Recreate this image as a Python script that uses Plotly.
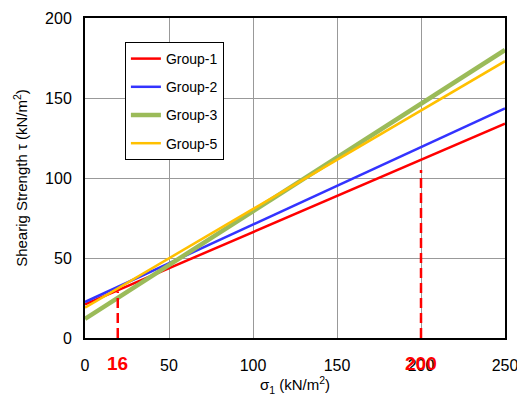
import plotly.graph_objects as go

# straight-line fits: tau at sigma=0 and sigma=250
sigma = [0, 250]
group_names = ["Group-1", "Group-2", "Group-3", "Group-5"]
group_1 = [21, 134]
group_2 = [22.5, 143.5]
group_3 = [12, 180]
group_5 = [19, 173]

colors = ["#FF0000", "#3333FF", "#9BBB59", "#FFC000"]
widths = [2.5, 2.5, 4.5, 2.5]

# dashed markers (the left one sits a little right of 16 in the original)
mark_x = [19.5, 200]
mark_top = [29, 105]
mark_labels = ["16", "200"]

fig = go.Figure()
for name, vals, c, w in zip(group_names, [group_1, group_2, group_3, group_5], colors, widths):
    fig.add_trace(go.Scatter(x=sigma, y=vals, mode="lines", name=name, legendgroup=name,
                             line=dict(color=c, width=w)))

for mx, mt, lab in zip(mark_x, mark_top, mark_labels):
    fig.add_trace(go.Scatter(x=[mx, mx], y=[0, mt], mode="lines", showlegend=False,
                             line=dict(color="#FF0000", width=2.5, dash="10px,5px")))
    fig.add_annotation(x=mx, y=0, xref="x", yref="y", yanchor="top", yshift=-13,
                       text=f"<b>{lab}</b>", showarrow=False,
                       font=dict(color="#FF0000", size=19))

fig.update_xaxes(range=[0, 250], tickvals=[0, 50, 100, 150, 200, 250],
                 showgrid=True, gridcolor="#999999", gridwidth=1,
                 showline=True, linecolor="black", linewidth=2, mirror=True,
                 ticks="outside", ticklen=12, tickcolor="rgba(0,0,0,0)",
                 zeroline=False, tickfont=dict(size=16, color="black"), automargin=False,
                 title=dict(text="σ<sub>1</sub> (kN/m<sup>2</sup>)", font=dict(size=15, color="black"), standoff=4))
fig.update_yaxes(range=[0, 200], tickvals=[0, 50, 100, 150, 200],
                 showgrid=True, gridcolor="#999999", gridwidth=1,
                 showline=True, linecolor="black", linewidth=2, mirror=True,
                 ticks="outside", ticklen=8, tickcolor="rgba(0,0,0,0)",
                 zeroline=False, tickfont=dict(size=16, color="black"), automargin=False,
                 title=dict(text="Shearig Strength τ (kN/m<sup>2</sup>)", font=dict(size=15, color="black"), standoff=14))

# page body has an 8px margin, so the figure is sized and offset for it
fig.update_layout(
    width=517, height=390,
    font=dict(family="Liberation Sans, Arial, sans-serif", color="black"),
    paper_bgcolor="white", plot_bgcolor="white",
    margin=dict(l=77, r=20, t=10, b=60),
    legend=dict(x=0.095, y=0.925, xanchor="left", yanchor="top",
                bgcolor="white", bordercolor="black", borderwidth=1,
                font=dict(size=14), tracegroupgap=7, itemwidth=30),
)

fig.write_html("out.html")
